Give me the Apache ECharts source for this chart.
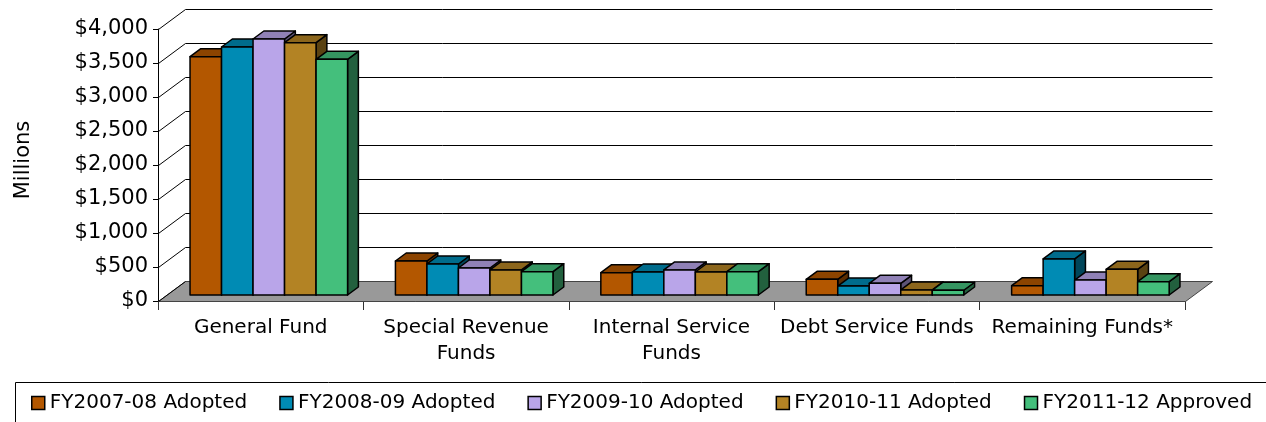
<!DOCTYPE html>
<html>
<head>
<meta charset="utf-8">
<script src="https://cdn.jsdelivr.net/npm/echarts@6/dist/echarts.min.js"></script>
<style>
  html, body { margin: 0; padding: 0; background: #fff; }
  #chart { width: 1266px; height: 422px; }
</style>
</head>
<body>
<div id="chart"></div>
<script>
// data (millions of dollars)
const categories = ['General Fund', 'Special Revenue\nFunds', 'Internal Service\nFunds', 'Debt Service Funds', 'Remaining Funds*'];
const seriesNames = ['FY2007-08 Adopted', 'FY2008-09 Adopted', 'FY2009-10 Adopted', 'FY2010-11 Adopted', 'FY2011-12 Approved'];
const fy0708 = [3505, 500, 328, 230, 137];
const fy0809 = [3647, 456, 338, 132, 530];
const fy0910 = [3765, 397, 368, 172, 220];
const fy1011 = [3711, 368, 338, 74, 377];
const fy1112 = [3466, 343, 343, 70, 196];
const yTicks = [0, 500, 1000, 1500, 2000, 2500, 3000, 3500, 4000];

const colors = ['#b35700', '#008bb4', '#b9a5e9', '#b38324', '#44bf7c'];
const allValues = [fy0708, fy0809, fy0910, fy1011, fy1112];

// fake 3d: offset of the back wall, bars sit in the middle of the depth
const DX = 27, DY = -20;
const FRONT = 0.3, BAR_DEPTH = 0.4;
const FONT = 'DejaVu Sans';

function shade(hex, f) {
  const n = parseInt(hex.slice(1), 16);
  const r = Math.round(((n >> 16) & 255) * f);
  const g = Math.round(((n >> 8) & 255) * f);
  const b = Math.round((n & 255) * f);
  return 'rgb(' + r + ',' + g + ',' + b + ')';
}

function fmtMoney(v) {
  return '$' + String(v).replace(/\B(?=(\d{3})+(?!\d))/g, ',');
}

const chart = echarts.init(document.getElementById('chart'));

function wallItem(params, api) {
  const cs = params.coordSys;
  const y = Math.round(api.coord([0, api.value(1)])[1]) + 0.5;
  const x = cs.x + 0.5;
  const kids = [];
  if (api.value(1) === 0) {
    kids.push({
      type: 'polygon',
      shape: { points: [[x, y], [x + cs.width, y], [x + cs.width + DX, y + DY], [x + DX, y + DY]] },
      style: { fill: '#999999', stroke: '#444', lineWidth: 1 }
    });
  } else {
    kids.push({
      type: 'line',
      shape: { x1: x + DX, y1: y + DY, x2: x + cs.width + DX, y2: y + DY },
      style: { stroke: '#000', lineWidth: 1 }
    });
  }
  kids.push({
    type: 'line',
    shape: { x1: x, y1: y, x2: x + DX, y2: y + DY },
    style: { stroke: '#000', lineWidth: 1 }
  });
  return { type: 'group', children: kids };
}

function barRenderer(idx) {
  const c = colors[idx];
  return function (params, api) {
    const cat = api.value(0);
    const top = api.coord([cat, api.value(1)]);
    const base = api.coord([cat, 0]);
    const band = api.size([1, 0])[0];
    const groupW = band * 0.767;
    const bw = groupW / 5;
    const x0 = top[0] - groupW / 2 + idx * bw + FRONT * DX;
    const yT = top[1] + FRONT * DY;
    const yB = base[1] + FRONT * DY;
    const dx = BAR_DEPTH * DX, dy = BAR_DEPTH * DY;
    const line = { stroke: '#000', lineWidth: 1.5, lineJoin: 'round' };
    return {
      type: 'group',
      children: [
        { type: 'polygon', shape: { points: [[x0 + bw, yT], [x0 + bw + dx, yT + dy], [x0 + bw + dx, yB + dy], [x0 + bw, yB]] },
          style: Object.assign({ fill: shade(c, 0.5) }, line) },
        { type: 'polygon', shape: { points: [[x0, yT], [x0 + dx, yT + dy], [x0 + bw + dx, yT + dy], [x0 + bw, yT]] },
          style: Object.assign({ fill: shade(c, 0.78) }, line) },
        { type: 'rect', shape: { x: x0, y: yT, width: bw, height: yB - yT },
          style: Object.assign({ fill: c }, line) }
      ]
    };
  };
}

const barSeries = seriesNames.map((name, i) => ({
  name: name,
  type: 'custom',
  z: 3,
  itemStyle: { color: colors[i], borderColor: '#000', borderWidth: 1.5 },
  renderItem: barRenderer(i),
  encode: { x: 0, y: 1 },
  data: allValues[i].map((v, k) => [k, v])
}));

const option = {
  backgroundColor: '#fff',
  animation: false,
  textStyle: { fontFamily: FONT, color: '#000' },
  grid: { left: 158, right: 81, top: 29, bottom: 121, outerBoundsMode: 'none', containLabel: false },
  xAxis: {
    type: 'category',
    data: categories,
    axisLine: { show: true, lineStyle: { color: '#444', width: 1 } },
    axisTick: { show: true, length: 9, lineStyle: { color: '#333' } },
    axisLabel: { interval: 0, fontFamily: FONT, fontSize: 20, color: '#000', lineHeight: 26, margin: 14 },
    splitLine: { show: false }
  },
  yAxis: {
    type: 'value',
    min: 0,
    max: 4000,
    interval: 500,
    name: 'Millions',
    nameLocation: 'middle',
    nameRotate: 90,
    nameGap: 124,
    nameTextStyle: { fontFamily: FONT, fontSize: 21, color: '#000', padding: [0, 0, 0, 10] },
    axisLine: { show: true, lineStyle: { color: '#000', width: 1 } },
    axisTick: { show: true, length: 5, lineStyle: { color: '#000' } },
    axisLabel: { fontFamily: FONT, fontSize: 21, color: '#000', margin: 10, formatter: fmtMoney },
    splitLine: { show: false }
  },
  legend: {
    data: seriesNames,
    left: 31,
    top: 393,
    padding: 0,
    itemGap: 32,
    itemWidth: 13,
    itemHeight: 13,
    itemTextGap: 6,
    icon: 'rect',
    itemStyle: { borderColor: '#000', borderWidth: 1.5 },
    textStyle: { fontFamily: FONT, fontSize: 20, color: '#000' }
  },
  graphic: [{
    type: 'rect',
    shape: { x: 15.5, y: 382.5, width: 1300, height: 60 },
    style: { fill: 'none', stroke: '#000', lineWidth: 1 },
    silent: true
  }],
  series: [{
    name: 'walls',
    type: 'custom',
    z: 1,
    silent: true,
    renderItem: wallItem,
    encode: { x: 0, y: 1 },
    data: yTicks.map(t => [0, t])
  }].concat(barSeries)
};

chart.setOption(option);
</script>
</body>
</html>
